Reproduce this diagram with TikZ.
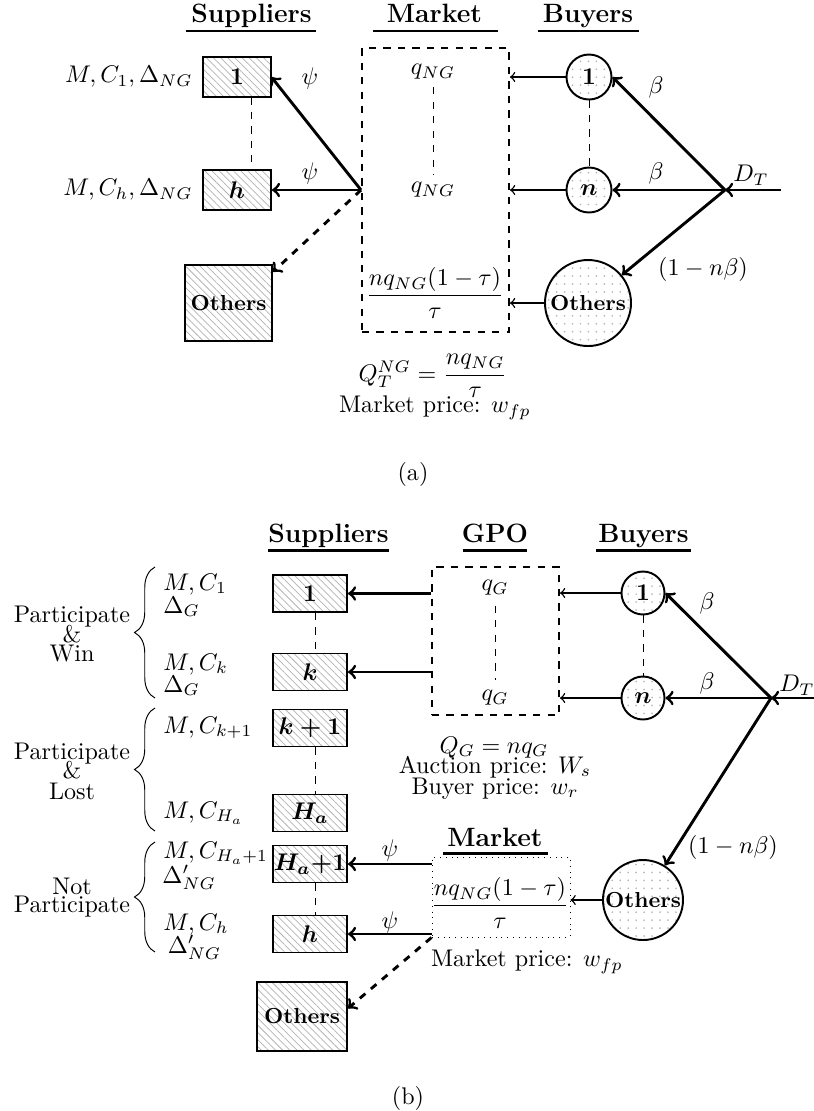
\documentclass[tikz,border=0pt]{standalone}
\usepackage{amsmath}
\usetikzlibrary{patterns,patterns.meta,decorations.pathreplacing,calc}
\newdimen\pxu \pxu=0.415pt
\begin{document}
\begin{tikzpicture}[x=0.415pt,y=-0.415pt,
  sup/.style={draw,thick,pattern={Lines[angle=-45,distance=2.1pt,line width=0.3pt]},pattern color=gray!60,inner sep=0pt},
  buy/.style={draw,thick,circle,pattern={Dots[distance=3.3pt,radius=0.4pt]},pattern color=gray!55,inner sep=0pt},
  ttl/.style={font=\fontsize{11}{13}\selectfont\bfseries,anchor=base,inner sep=0pt},
  oth/.style={font=\small\bfseries},
  uline/.style={very thick},
  bigarr/.style={very thick,->},
  smallarr/.style={semithick,->},
  sep/.style={dashed,thin},
  lab/.style={inner sep=0pt},
  brc/.style={thin,decorate,decoration={brace,amplitude=8.5pt}}
]
\path[use as bounding box] (0,0) rectangle (814,1111);

% ================= (a) =================
\node[ttl] (tSa) at (251.5,22) {Suppliers};
\node[ttl] (tMa) at (434.5,22) {Market};
\node[ttl] (tBa) at (588,22) {Buyers};
\draw[uline] ($(tSa.base)+(-65.5,9)$) -- ($(tSa.base)+(64.5,9)$);
\draw[uline] ($(tMa.base)+(-61.5,9)$) -- ($(tMa.base)+(63.5,9)$);
\draw[uline] ($(tBa.base)+(-50,9)$) -- ($(tBa.base)+(51,9)$);

\node[sup,minimum width=68\pxu,minimum height=40\pxu] (sa1) at (237,77) {$\mathbf{1}$};
\node[sup,minimum width=68\pxu,minimum height=40\pxu] (sah) at (237,190) {$\boldsymbol{h}$};
\node[sup,oth,minimum width=87\pxu,minimum height=76\pxu] (sao) at (228.5,303) {Others};
\node[lab,anchor=east] (la1) at (193,77) {$M,C_1,\Delta_{NG}$};
\node[lab,anchor=east] (lah) at (193,190) {$M,C_h,\Delta_{NG}$};
\draw[sep] ([xshift=14.5\pxu]sa1.south) -- ([xshift=14.5\pxu,yshift=1pt]sah.north);

\node[draw,thick,dashed,minimum width=147\pxu,minimum height=284\pxu,inner sep=0pt] (mkta) at (435.5,190) {};
\coordinate (Ja) at (mkta.west);
\node[lab] (qa1) at (433,72) {$q_{NG}$};
\node[lab] (qa2) at (433,190) {$q_{NG}$};
\draw[sep] ([yshift=-3pt]qa1.south) -- ([yshift=3pt]qa2.north);
\node[lab] (fa) at (435,293) {$\dfrac{nq_{NG}(1-\tau)}{\tau}$};

\draw[bigarr] (Ja) -- (sa1.east);
\draw[bigarr] (Ja) -- (sah.east);
\draw[bigarr,dashed] (Ja) -- (sao.35);
\node[lab] (psa1) at (310,78) {$\psi$};
\node[lab] (psa2) at (310,173) {$\psi$};

\node[buy,minimum size=45\pxu] (ba1) at (589,77) {$\mathbf{1}$};
\node[buy,minimum size=45\pxu] (ban) at (589,190) {$\boldsymbol{n}$};
\node[buy,oth,minimum size=86\pxu] (bao) at (588,303) {Others};
\draw[sep] (ba1) -- (ban);
\draw[smallarr] (ba1.west) -- (ba1.west -| mkta.east);
\draw[smallarr] (ban.west) -- (ban.west -| mkta.east);
\draw[smallarr] (bao.west) -- (bao.west -| mkta.east);

\coordinate (Ea) at (781,190);
\coordinate (Da) at (725,190);
\draw[bigarr] (Ea) -- (Da);
\draw[bigarr] (Da) -- (ba1.east);
\draw[bigarr] (Da) -- (ban.east);
\draw[bigarr] (Da) -- (bao);
\node[lab] (bta1) at (656,87) {$\beta$};
\node[lab] (bta2) at (656,173) {$\beta$};
\node[lab] (DTa) at (751,175) {$D_T$};
\node[lab] (nba) at (703,269) {$(1-n\beta)$};

\node[lab] (eqa) at (433,376) {$Q_T^{NG}=\dfrac{nq_{NG}}{\tau}$};
\node[lab] (mpa) at (435,408) {Market price: $w_{fp}$};
\node[lab] (capa) at (413,474) {(a)};

% ================= (b) =================
\node[ttl] (tSb) at (328.5,542) {Suppliers};
\node[ttl] (tGb) at (495,542) {GPO};
\node[ttl] (tBb) at (643.5,542) {Buyers};
\draw[uline] ($(tSb.base)+(-60.5,8.5)$) -- ($(tSb.base)+(60.5,8.5)$);
\draw[uline] ($(tGb.base)+(-32,8.5)$) -- ($(tGb.base)+(32,8.5)$);
\draw[uline] ($(tBb.base)+(-47.5,8.5)$) -- ($(tBb.base)+(47.5,8.5)$);

\node[sup,minimum width=74\pxu,minimum height=37\pxu] (p1) at (310,593.5) {$\mathbf{1}$};
\node[sup,minimum width=74\pxu,minimum height=37\pxu] (pk) at (310,672) {$\boldsymbol{k}$};
\node[sup,minimum width=74\pxu,minimum height=37\pxu] (pk1) at (310,728) {$\boldsymbol{k+1}$};
\node[sup,minimum width=74\pxu,minimum height=37\pxu] (pha) at (310,813) {$\boldsymbol{H_a}$};
\node[sup,minimum width=74\pxu,minimum height=37\pxu] (pha1) at (310,864) {$\boldsymbol{H_a}$\textbf{+1}};
\node[sup,minimum width=74\pxu,minimum height=37\pxu] (ph) at (310,934) {$\boldsymbol{h}$};
\node[sup,oth,minimum width=90\pxu,minimum height=69\pxu] (pob) at (302,1016.5) {Others};
\draw[sep] ([xshift=5\pxu]p1.south) -- ([xshift=5\pxu]pk.north);
\draw[sep] ([xshift=5\pxu]pk1.south) -- ([xshift=5\pxu]pha.north);
\draw[sep] ([xshift=5\pxu]pha1.south) -- ([xshift=5\pxu]ph.north);

% left labels
\node[lab,anchor=base west] (l1a) at (163,590) {$M,C_1$};
\node[lab,anchor=base west] (l1b) at (163,613) {$\Delta_G$};
\node[lab,anchor=base west] (lka) at (163,670) {$M,C_k$};
\node[lab,anchor=base west] (lkb) at (163,692) {$\Delta_G$};
\node[lab,anchor=base west] (lk1) at (163,733) {$M,C_{k+1}$};
\node[lab,anchor=base west] (lha) at (163,818) {$M,C_{H_a}$};
\node[lab,anchor=base west] (lha1a) at (163,858) {$M,C_{H_a+1}$};
\node[lab,anchor=base west] (lha1b) at (162,883) {$\Delta'_{NG}$};
\node[lab,anchor=base west] (lhha) at (163,930) {$M,C_h$};
\node[lab,anchor=base] (lhhb) at (194.5,953) {$\Delta'_{NG}$};

% braces
\draw[brc] (155,698) -- (155,567) coordinate (br1);
\draw[brc] (155,831) -- (155,708) coordinate (br2);
\draw[brc] (155,952) -- (155,842) coordinate (br3);
\node[lab,anchor=base] (w1) at (72,622) {Participate};
\node[lab,anchor=base] (w2) at (72,642) {\&};
\node[lab,anchor=base] (w3) at (72,661) {Win};
\node[lab,anchor=base] (o1) at (72,759) {Participate};
\node[lab,anchor=base] (o2) at (72,778) {\&};
\node[lab,anchor=base] (o3) at (72,799) {Lost};
\node[lab,anchor=base] (n1) at (72,894) {Not};
\node[lab,anchor=base] (n2) at (72,912) {Participate};

% GPO
\node[draw,thick,dashed,minimum width=127\pxu,minimum height=148\pxu,inner sep=0pt] (gpo) at (495.5,641) {};
\node[lab] (qg1) at (495,588) {$q_G$};
\node[lab] (qg2) at (495,698) {$q_G$};
\draw[sep] ([yshift=-4pt]qg1.south) -- ([yshift=4pt]qg2.north);
\draw[bigarr] (p1.east -| gpo.west) -- (p1.east);
\draw[bigarr] (pk.east -| gpo.west) -- (pk.east);

% buyers (b)
\node[buy,minimum size=43\pxu] (c1) at (643,593) {$\mathbf{1}$};
\node[buy,minimum size=43\pxu] (cn) at (643,698) {$\boldsymbol{n}$};
\node[buy,oth,minimum size=80\pxu] (cob) at (643,900) {Others};
\draw[sep] (c1) -- (cn);
\draw[smallarr] (c1.west) -- (c1.west -| gpo.east);
\draw[smallarr] (cn.west) -- (cn.west -| gpo.east);
\coordinate (Eb) at (816,698);
\coordinate (Db) at (771,698);
\draw[bigarr] (Eb) -- (Db);
\draw[bigarr] (Db) -- (c1.east);
\draw[bigarr] (Db) -- (cn.east);
\draw[bigarr] (Db) -- (cob);
\node[lab] (btb1) at (707,603) {$\beta$};
\node[lab] (btb2) at (707,683) {$\beta$};
\node[lab] (DTb) at (797,685) {$D_T$};
\node[lab] (nbb) at (733,847) {$(1-n\beta)$};

\node[lab,anchor=base] (eqb1) at (494,753) {$Q_G=nq_G$};
\node[lab,anchor=base] (eqb2) at (495,773) {Auction price: $W_s$};
\node[lab,anchor=base] (eqb3) at (495,794) {Buyer price: $w_r$};

% market (b)
\node[ttl] (tMb) at (495,846) {Market};
\draw[uline] ($(tMb.base)+(-52,7.5)$) -- ($(tMb.base)+(53,7.5)$);
\node[draw,dotted,minimum width=138\pxu,minimum height=80\pxu,inner sep=0pt] (mktb) at (501,897) {};
\node[lab] (fb) at (500,903) {$\dfrac{nq_{NG}(1-\tau)}{\tau}$};
\draw[smallarr] (cob.west) -- (cob.west -| mktb.east);
\draw[bigarr] (pha1.east -| mktb.west) -- (pha1.east);
\draw[bigarr] (ph.east -| mktb.west) -- (ph.east);
\draw[bigarr,dashed] (mktb.south west) -- (pob.10);
\node[lab] (psb1) at (390,850) {$\psi$};
\node[lab] (psb2) at (390,922) {$\psi$};
\node[lab] (mpb) at (527,962) {Market price: $w_{fp}$};
\node[lab] (capb) at (408,1098) {(b)};
\end{tikzpicture}
\end{document}
